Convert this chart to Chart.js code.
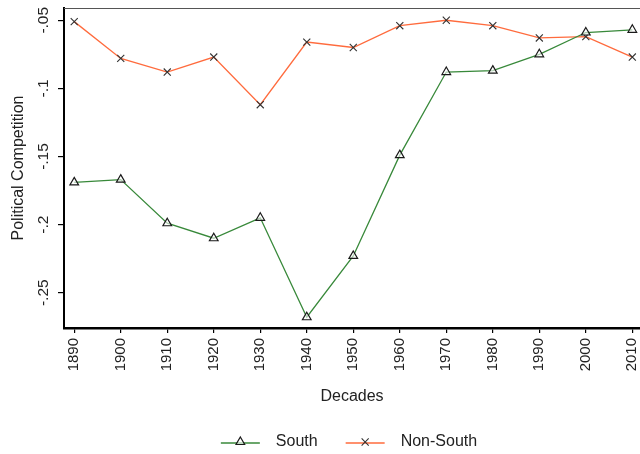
<!DOCTYPE html>
<html>
<head>
<meta charset="utf-8">
<script src="https://cdn.jsdelivr.net/npm/chart.js@4/dist/chart.umd.min.js"></script>
<style>
  html, body { margin: 0; padding: 0; background: #fff; }
  #wrap { width: 640px; height: 454px; }
</style>
</head>
<body>
<div id="wrap"><canvas id="myChart" width="640" height="454"></canvas></div>
<script>
// decades on the x axis
var decades = [1890, 1900, 1910, 1920, 1930, 1940, 1950, 1960, 1970, 1980, 1990, 2000, 2010];

// political competition by region
var south    = [-0.169, -0.167, -0.199, -0.210, -0.195, -0.268, -0.223, -0.149, -0.088, -0.087, -0.075, -0.059, -0.057];
var nonSouth = [-0.051, -0.078, -0.088, -0.077, -0.112, -0.066, -0.070, -0.054, -0.050, -0.054, -0.063, -0.062, -0.077];

// y tick values and the way they are printed
var yTicks = [-0.05, -0.1, -0.15, -0.2, -0.25];
var yTickLabels = ["-.05", "-.1", "-.15", "-.2", "-.25"];

var txt = "#222";
var fam = "'Liberation Sans', Arial, sans-serif";

function pts(vals) {
  return vals.map(function (v, i) { return { x: decades[i], y: v }; });
}

// rotated y labels, top frame line and the legend
var extras = {
  id: "extras",
  beforeDatasetsDraw: function (chart) {
    var a = chart.chartArea, c = chart.ctx;
    c.save();
    c.strokeStyle = "#555";
    c.lineWidth = 1;
    c.beginPath();
    c.moveTo(a.left, a.top + 0.5);
    c.lineTo(a.right, a.top + 0.5);
    c.stroke();
    c.restore();
  },
  afterDraw: function (chart) {
    var c = chart.ctx, y = chart.scales.y, a = chart.chartArea;
    c.save();
    c.fillStyle = txt;
    c.font = "15.5px " + fam;
    c.textAlign = "center";
    c.textBaseline = "middle";
    yTicks.forEach(function (v, i) {
      c.save();
      c.translate(44, y.getPixelForValue(v));
      c.rotate(-Math.PI / 2);
      c.fillText(yTickLabels[i], 0, 0);
      c.restore();
    });

    // legend
    c.font = "16px " + fam;
    var lineLen = 39, gap = 16, itemGap = 28, ly = 443;
    var sets = chart.data.datasets;
    var widths = sets.map(function (d) { return c.measureText(d.label).width; });
    var total = 0;
    widths.forEach(function (w, i) { total += lineLen + gap + w + (i ? itemGap : 0); });
    var x = (a.left + a.right) / 2 - 3 - total / 2;
    sets.forEach(function (d, i) {
      c.strokeStyle = d.borderColor;
      c.lineWidth = 1.5;
      c.beginPath();
      c.moveTo(x, ly);
      c.lineTo(x + lineLen, ly);
      c.stroke();
      c.strokeStyle = d.pointBorderColor;
      c.fillStyle = d.pointBackgroundColor;
      c.lineWidth = d.pointBorderWidth;
      Chart.helpers.drawPoint(c, { pointStyle: d.pointStyle, radius: d.pointRadius, borderWidth: d.pointBorderWidth, rotation: 0 }, x + lineLen / 2, ly - 1);
      c.fillStyle = txt;
      c.textAlign = "left";
      c.textBaseline = "middle";
      c.fillText(d.label, x + lineLen + gap, ly - 1);
      x += lineLen + gap + widths[i] + itemGap;
    });
    c.restore();
  }
};

new Chart(document.getElementById("myChart"), {
  type: "line",
  data: {
    datasets: [
      {
        label: "South",
        data: pts(south),
        borderColor: "#38893a",
        borderWidth: 1.3,
        pointStyle: "triangle",
        pointRadius: 5,
        pointBorderColor: "#1a1a1a",
        pointBackgroundColor: "rgba(255,255,255,0.6)",
        pointBorderWidth: 1.2,
        tension: 0
      },
      {
        label: "Non-South",
        data: pts(nonSouth),
        borderColor: "#ff6b3d",
        borderWidth: 1.3,
        pointStyle: "crossRot",
        pointRadius: 5,
        pointBorderColor: "#333",
        pointBackgroundColor: "#333",
        pointBorderWidth: 1.1,
        tension: 0
      }
    ]
  },
  options: {
    responsive: false,
    animation: false,
    layout: { autoPadding: false, padding: { left: 0, right: 0, top: 8, bottom: 48 } },
    plugins: { legend: { display: false }, tooltip: { enabled: false } },
    elements: { line: { clip: false } },
    scales: {
      x: {
        type: "linear",
        min: 1887.8,
        max: 2011.65,
        afterBuildTicks: function (s) { s.ticks = decades.map(function (d) { return { value: d }; }); },
        afterFit: function (s) { s.height = 78; s.paddingLeft = 0; s.paddingRight = 0; },
        border: { display: true, color: "#000", width: 2.5 },
        grid: { drawOnChartArea: false, drawTicks: true, tickLength: 5, color: "#000", lineWidth: 1.2 },
        ticks: {
          minRotation: 90, maxRotation: 90, padding: 5,
          color: txt, font: { family: fam, size: 15 },
          callback: function (v) { return String(v); }
        },
        title: { display: true, text: "Decades", color: txt, font: { family: fam, size: 16 }, padding: { top: 0, bottom: 0 } }
      },
      y: {
        min: -0.2759,
        max: -0.041,
        afterBuildTicks: function (s) { s.ticks = yTicks.map(function (v) { return { value: v }; }); },
        afterFit: function (s) { s.width = 64; s.paddingTop = 0; s.paddingBottom = 0; },
        border: { display: true, color: "#000", width: 2 },
        grid: { drawOnChartArea: false, drawTicks: true, tickLength: 6, color: "#000", lineWidth: 1.2 },
        ticks: { display: false },
        title: { display: true, text: "Political Competition", color: txt, font: { family: fam, size: 16 }, padding: { top: 9, bottom: 0 } }
      }
    }
  },
  plugins: [extras]
});
</script>
</body>
</html>
